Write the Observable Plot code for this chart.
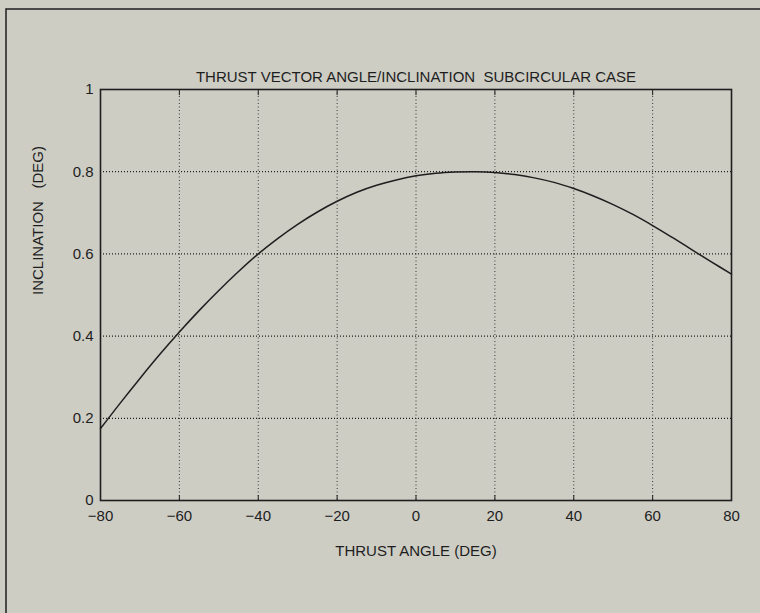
<!DOCTYPE html>
<html>
<head>
<meta charset="utf-8">
<script src="https://cdn.jsdelivr.net/npm/d3@7"></script>
<script src="https://cdn.jsdelivr.net/npm/@observablehq/plot@0.6"></script>
<style>
  html, body { margin: 0; padding: 0; background: #cdcdc4; }
  #chart svg { display: block; }
</style>
</head>
<body>
<div id="chart"></div>
<script>
// Inclination (deg) produced by the thrust vector angle (deg), subcircular case
const thrustAngle = [-80, -75, -70, -65, -60, -55, -50, -45, -40, -35, -30, -25, -20, -15, -10, -5,
                     0, 5, 10, 15, 20, 25, 30, 35, 40, 45, 50, 55, 60, 65, 70, 75, 80];
const inclination = [0.175, 0.237, 0.297, 0.355, 0.410, 0.462, 0.511, 0.557, 0.600, 0.638, 0.672, 0.702,
                     0.728, 0.750, 0.767, 0.780, 0.790, 0.796, 0.799, 0.800, 0.798, 0.793, 0.785, 0.774,
                     0.759, 0.741, 0.720, 0.696, 0.669, 0.640, 0.610, 0.580, 0.551];

const xTicks = [-80, -60, -40, -20, 0, 20, 40, 60, 80];
const yTicks = [0, 0.2, 0.4, 0.6, 0.8, 1];
const yTickLabels = ["0", "0.2", "0.4", "0.6", "0.8", "1"];

const title = "THRUST VECTOR ANGLE/INCLINATION  SUBCIRCULAR CASE";
const xLabel = "THRUST ANGLE (DEG)";
const yLabel = "INCLINATION   (DEG)";

const points = thrustAngle.map((a, i) => ({angle: a, incl: inclination[i]}));

const ink = "#1e1e1e";
const font = "'Liberation Sans Narrow', 'Liberation Sans', sans-serif";

const chart = Plot.plot({
  width: 760,
  height: 613,
  marginLeft: 100,
  marginRight: 29,
  marginTop: 89,
  marginBottom: 113,
  style: {background: "#cdcdc4", fontFamily: font, fontSize: "15px", color: ink},
  x: {domain: [-80, 80], ticks: xTicks},
  y: {domain: [0, 1], ticks: yTicks},
  marks: [
    // dotted grid
    Plot.gridX(xTicks.slice(1, -1), {stroke: ink, strokeOpacity: 0.85, strokeWidth: 1, strokeDasharray: "1,2.5"}),
    Plot.gridY(yTicks.slice(1, -1), {stroke: ink, strokeOpacity: 1, strokeWidth: 1.3, strokeDasharray: "1,2"}),
    // short inward ticks on top and bottom edges
    Plot.ruleX(xTicks.slice(1, -1), {y1: 1, y2: 0.985, stroke: ink, strokeWidth: 1}),
    Plot.ruleX(xTicks.slice(1, -1), {y1: 0, y2: 0.012, stroke: ink, strokeWidth: 1}),
    Plot.axisX(xTicks, {anchor: "bottom", tickSize: 0, tickPadding: 10, label: null, fontSize: 15, fill: ink}),
    Plot.axisY(yTicks, {anchor: "left", tickSize: 0, tickPadding: 7, label: null, fontSize: 15, fill: ink,
                        tickFormat: (d) => yTickLabels[yTicks.indexOf(d)]}),
    Plot.frame({stroke: ink, strokeWidth: 1.6}),
    Plot.line(points, {x: "angle", y: "incl", stroke: ink, strokeWidth: 1.5, curve: "catmull-rom"}),
    Plot.text([title], {frameAnchor: "top", dy: -18, fontSize: 15, fill: ink}),
    Plot.text([xLabel], {frameAnchor: "bottom", dy: 55, fontSize: 15, fill: ink}),
    Plot.text([yLabel], {frameAnchor: "left", dx: -62, dy: 0, rotate: -90, fontSize: 15, fill: ink})
  ]
});

// page border around the figure
d3.select(chart).append("rect")
  .attr("x", 6).attr("y", 9).attr("width", 900).attr("height", 800)
  .attr("fill", "none").attr("stroke", ink).attr("stroke-width", 1.5);

document.getElementById("chart").appendChild(chart);
</script>
</body>
</html>
